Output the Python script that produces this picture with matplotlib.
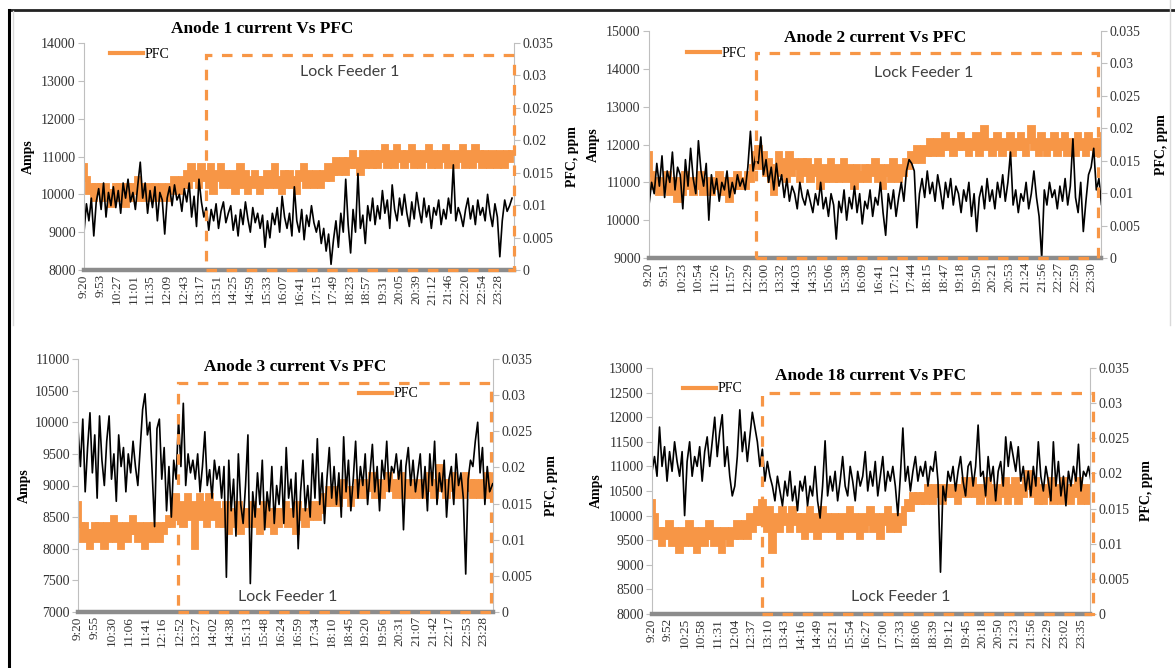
import numpy as np
import matplotlib
matplotlib.use('Agg')
import matplotlib.pyplot as plt
import matplotlib.transforms as mtransforms
from matplotlib.patches import Rectangle
from matplotlib.lines import Line2D
from matplotlib.ticker import FuncFormatter

plt.rcParams['font.family'] = 'Liberation Serif'

ORANGE = '#F79646'
START = '9:20'
AMPS_STEP = 5    # minutes between current samples
PFC_STEP = 5     # minutes between PFC samples

titles = ['Anode 1 current Vs PFC', 'Anode 2 current Vs PFC',
          'Anode 3 current Vs PFC', 'Anode 18 current Vs PFC']

# time of the lock feeder change (left side of the dashed box)
lock_start = ['13:29', '12:46', '12:49', '12:59']

# ---- anode current, Amps (one row = one hour from hh:20) ----
a1_amps = [
    9000, 9750, 9300, 9900, 8900, 9800, 10150, 9600, 10300, 9400, 10050, 9700,
    10200, 9650, 10100, 9500, 10300, 9900, 10400, 9800, 10050, 9600, 10250, 10850,
    9900, 10300, 9500, 10100, 9650, 10200, 9300, 10050, 9850, 8950, 9900, 10200,
    9700, 10250, 9850, 10000, 9550, 10150, 9800, 10300, 9400, 9950, 9150, 10400,
    9800, 9400, 9650, 9050, 9600, 9300, 9750, 9100, 9550, 9800, 9250, 9500,
    9700, 9050, 9450, 8900, 9600, 9200, 9800, 9350, 9000, 9650, 9250, 9500,
    9100, 9450, 8600, 9300, 8850, 9500, 9200, 9650, 9000, 9950, 9400, 9100,
    9500, 8900, 10200, 9300, 9000, 9600, 8800, 9450, 9150, 9700, 9250, 9000,
    9300, 8700, 9100, 8500, 8950, 8150, 8800, 9300, 8600, 9500, 9000, 10400,
    9200, 8450, 9600, 9000, 10550, 9100, 9450, 8700, 9700, 9300, 9900, 9200,
    9700, 9350, 10100, 9500, 9850, 9100, 10250, 9600, 9300, 9900, 9450, 10000,
    9500, 9150, 9800, 9350, 10050, 9600, 9250, 9900, 9400, 9700, 9100, 9650,
    9450, 9850, 9200, 9600, 9350, 9900, 9500, 10780, 9300, 9650, 9450, 9150,
    9600, 9900, 9350, 9700, 9200, 9850, 9450, 9650, 9300, 10000, 9500, 9150,
    9750, 9400, 8350, 9300, 9850, 9550, 9700, 9900]

a2_amps = [
    10400, 11000, 10700, 11500, 10900, 11700, 10600, 11300, 11000, 11800, 10800, 11400,
    11200, 10300, 11600, 10900, 11900, 11100, 10700, 12100, 11300, 10900, 11500, 10000,
    11200, 10700, 11100, 10500, 11000, 10800, 11300, 10600, 11000, 10700, 11200, 10900,
    11100, 10800, 11400, 12350, 11300, 11700, 11500, 12200, 11200, 11600, 11000, 11400,
    10800, 11500, 10900, 11200, 10600, 11100, 10500, 10900, 10700, 10300, 11000, 10600,
    10400, 10800, 10500, 10200, 10700, 10400, 11000, 10300, 10600, 10100, 10700, 10400,
    9500, 10500, 10200, 10800, 10000, 10600, 10300, 10900, 10200, 10700, 9900, 10500,
    10300, 10800, 10100, 10600, 10400, 11000, 10200, 9600, 10700, 10300, 10800, 10100,
    10600, 11000, 10500, 11300, 11600, 11500, 11300, 9800, 10700, 11100, 10600, 11300,
    10700, 11000, 10500, 11200, 10800, 10300, 11000, 10600, 11100, 10400, 10900, 10700,
    10200, 10800, 10500, 11000, 10100, 10700, 9700, 10600, 10900, 10300, 11100, 10500,
    10800, 10300, 11000, 10600, 11200, 10500, 11000, 11800, 10400, 10800, 10200, 10700,
    10500, 11000, 10300, 10700, 11300, 10600, 10100, 9000, 10800, 10400, 11000, 10600,
    10800, 10300, 10900, 10500, 11100, 10400, 10900, 12150, 10600, 10200, 11000, 9700,
    10500, 11200, 11400, 11900, 10800, 11100, 10400, 10800]

a3_amps = [
    9900, 9300, 10050, 8900, 9600, 10150, 9200, 9800, 8800, 10100, 9400, 9000,
    9700, 10100, 9100, 9500, 8750, 9800, 9300, 9600, 8900, 9500, 9200, 9700,
    9300, 9000, 9600, 10200, 10450, 9800, 10000, 9200, 8350, 9900, 10050, 9100,
    9600, 8600, 9300, 8500, 9400, 9100, 10050, 9300, 10300, 9000, 9500, 9200,
    9400, 9100, 9500, 8900, 9300, 9850, 9000, 9250, 8800, 9400, 9100, 9300,
    8800, 9300, 7550, 9400, 8600, 9100, 8200, 9500, 8700, 8400, 9000, 9800,
    7450, 8900, 8500, 9200, 8700, 9400, 8300, 8900, 8600, 9300, 8400, 9000,
    8700, 9300, 8400, 9600, 8800, 9100, 8500, 9200, 8000, 8900, 9400, 8600,
    9000, 8500, 9500, 8800, 9740, 8700, 9200, 8400, 9100, 9600, 8800, 9300,
    8700, 9200, 8500, 9770, 8900, 9400, 8600, 9100, 9700, 8800, 9300, 9000,
    9500, 8700, 9200, 9650, 8900, 9300, 8600, 9400, 9100, 9700, 8900, 9300,
    9200, 9500, 9100, 9400, 8300, 9300, 9600, 9000, 9400, 8900, 9200, 9500,
    8800, 9300, 8600, 9500, 9000, 9700, 8700, 9200, 8900, 9400, 8500, 9100,
    9300, 8700, 9500, 9000, 9200, 8800, 7600, 9100, 9400, 9300, 9700, 10000,
    9200, 9600, 8700, 9300, 8900, 9000, 9100, 8800]

a18_amps = [
    10900, 11200, 10800, 11800, 11000, 11400, 10700, 11300, 10900, 11500, 11100, 10800,
    11300, 10000, 11100, 11500, 10800, 11200, 11000, 11400, 10700, 11300, 11600, 11000,
    11500, 12000, 11200, 11700, 12050, 11000, 11400, 10800, 10400, 10600, 11200, 12150,
    11300, 11700, 11100, 11600, 12100, 11800, 11500, 11000, 11350, 10700, 11100, 10800,
    10600, 10300, 10800, 10500, 10200, 10700, 10400, 10900, 10300, 10600, 10100, 10700,
    10500, 10800, 10200, 10600, 10400, 11000, 10300, 9950, 10600, 11520, 10400, 10800,
    10500, 10900, 10300, 10700, 11200, 10600, 10400, 11000, 10700, 10300, 10900, 10600,
    10800, 11300, 10500, 10900, 10600, 11100, 10400, 10800, 11200, 10500, 10900, 10700,
    11000, 10600, 10000, 10800, 11780, 10700, 11000, 10500, 10900, 11200, 10700, 11000,
    10800, 11100, 10600, 11000, 10900, 11300, 10700, 8850, 10600, 10300, 10900, 10700,
    11000, 10500, 10900, 11200, 10700, 10400, 11000, 11100, 10600, 11000, 11840, 10800,
    10900, 10400, 11200, 10700, 11000, 10300, 10900, 11100, 10600, 11600, 11000, 11500,
    11200, 10900, 11400, 10700, 11000, 10500, 10900, 10400, 11000, 10600, 11500, 10800,
    10500, 11000, 10700, 10300, 11500, 10600, 11100, 10400, 10800, 10200, 10900, 10600,
    11000, 10700, 11450, 10500, 10900, 10800, 11000, 10700]

# ---- PFC, ppm (one row = one hour from hh:20) ----
a1_pfc = [
    0.016, 0.014, 0.012, 0.013, 0.011, 0.013, 0.012, 0.013, 0.011, 0.013, 0.012, 0.010,
    0.012, 0.013, 0.011, 0.013, 0.012, 0.010, 0.013, 0.011, 0.013, 0.012, 0.014, 0.011,
    0.013, 0.011, 0.012, 0.013, 0.011, 0.013, 0.012, 0.011, 0.013, 0.012, 0.011, 0.013,
    0.012, 0.014, 0.013, 0.012, 0.014, 0.013, 0.015, 0.013, 0.016, 0.014, 0.015, 0.013,
    0.016, 0.014, 0.015, 0.013, 0.016, 0.012, 0.015, 0.014, 0.016, 0.013, 0.015, 0.014,
    0.013, 0.015, 0.012, 0.014, 0.016, 0.013, 0.015, 0.012, 0.014, 0.013, 0.015, 0.014,
    0.012, 0.014, 0.013, 0.015, 0.013, 0.014, 0.016, 0.013, 0.014, 0.012, 0.015, 0.013,
    0.015, 0.013, 0.014, 0.012, 0.015, 0.014, 0.016, 0.013, 0.015, 0.014, 0.013, 0.015,
    0.014, 0.013, 0.015, 0.014, 0.016, 0.014, 0.015, 0.017, 0.015, 0.016, 0.017, 0.015,
    0.017, 0.016, 0.018, 0.016, 0.017, 0.015, 0.018, 0.016, 0.017, 0.018, 0.016, 0.018,
    0.016, 0.018, 0.017, 0.019, 0.016, 0.018, 0.017, 0.016, 0.019, 0.017, 0.018, 0.016,
    0.018, 0.017, 0.019, 0.016, 0.018, 0.017, 0.016, 0.018, 0.017, 0.019, 0.016, 0.018,
    0.017, 0.016, 0.018, 0.017, 0.019, 0.016, 0.018, 0.017, 0.016, 0.018, 0.017, 0.019,
    0.016, 0.018, 0.017, 0.016, 0.019, 0.017, 0.018, 0.016, 0.018, 0.017, 0.016, 0.018,
    0.017, 0.016, 0.018, 0.017, 0.016, 0.018, 0.017, 0.018]

a2_pfc = [
    0.016, 0.013, 0.011, 0.012, 0.010, 0.012, 0.011, 0.013, 0.010, 0.012, 0.011, 0.009,
    0.012, 0.010, 0.013, 0.011, 0.012, 0.010, 0.012, 0.011, 0.013, 0.010, 0.012, 0.011,
    0.010, 0.012, 0.011, 0.013, 0.010, 0.012, 0.011, 0.009, 0.012, 0.011, 0.013, 0.011,
    0.012, 0.011, 0.013, 0.012, 0.014, 0.016, 0.017, 0.014, 0.016, 0.013, 0.015, 0.012,
    0.010, 0.014, 0.016, 0.013, 0.015, 0.012, 0.016, 0.013, 0.015, 0.014, 0.012, 0.015,
    0.013, 0.015, 0.012, 0.014, 0.013, 0.015, 0.011, 0.014, 0.012, 0.013, 0.015, 0.012,
    0.014, 0.012, 0.013, 0.015, 0.012, 0.014, 0.013, 0.011, 0.014, 0.012, 0.013, 0.014,
    0.012, 0.014, 0.013, 0.015, 0.012, 0.014, 0.011, 0.013, 0.014, 0.012, 0.015, 0.013,
    0.012, 0.014, 0.013, 0.015, 0.014, 0.016, 0.015, 0.017, 0.016, 0.015, 0.017, 0.016,
    0.018, 0.016, 0.017, 0.018, 0.016, 0.017, 0.019, 0.017, 0.018, 0.016, 0.018, 0.017,
    0.019, 0.017, 0.018, 0.016, 0.018, 0.017, 0.019, 0.016, 0.018, 0.020, 0.017, 0.018,
    0.016, 0.018, 0.019, 0.017, 0.016, 0.018, 0.017, 0.019, 0.016, 0.018, 0.017, 0.019,
    0.017, 0.016, 0.018, 0.020, 0.017, 0.018, 0.016, 0.019, 0.017, 0.016, 0.018, 0.017,
    0.019, 0.016, 0.018, 0.017, 0.019, 0.016, 0.018, 0.017, 0.016, 0.019, 0.017, 0.018,
    0.016, 0.019, 0.017, 0.018, 0.016, 0.018, 0.017, 0.019]

a3_pfc = [
    0.015, 0.012, 0.010, 0.012, 0.011, 0.009, 0.011, 0.012, 0.010, 0.012, 0.011, 0.009,
    0.012, 0.010, 0.011, 0.013, 0.010, 0.012, 0.009, 0.011, 0.012, 0.010, 0.011, 0.013,
    0.011, 0.010, 0.012, 0.011, 0.009, 0.012, 0.011, 0.010, 0.012, 0.011, 0.010, 0.012,
    0.011, 0.012, 0.013, 0.012, 0.014, 0.016, 0.013, 0.015, 0.012, 0.014, 0.016, 0.013,
    0.015, 0.009, 0.014, 0.016, 0.013, 0.015, 0.012, 0.016, 0.014, 0.013, 0.015, 0.012,
    0.014, 0.012, 0.015, 0.011, 0.013, 0.014, 0.012, 0.015, 0.011, 0.013, 0.014, 0.012,
    0.013, 0.015, 0.012, 0.014, 0.011, 0.013, 0.015, 0.012, 0.014, 0.013, 0.011, 0.014,
    0.012, 0.014, 0.013, 0.015, 0.012, 0.014, 0.013, 0.011, 0.015, 0.013, 0.014, 0.012,
    0.014, 0.013, 0.015, 0.014, 0.013, 0.015, 0.014, 0.016, 0.015, 0.017, 0.015, 0.016,
    0.017, 0.015, 0.016, 0.018, 0.016, 0.017, 0.015, 0.017, 0.016, 0.018, 0.016, 0.017,
    0.016, 0.018, 0.017, 0.019, 0.016, 0.018, 0.017, 0.016, 0.018, 0.017, 0.019, 0.017,
    0.018, 0.016, 0.017, 0.019, 0.016, 0.018, 0.017, 0.016, 0.018, 0.016, 0.017, 0.018,
    0.016, 0.018, 0.017, 0.019, 0.017, 0.016, 0.018, 0.020, 0.017, 0.018, 0.016, 0.018,
    0.017, 0.019, 0.016, 0.018, 0.017, 0.016, 0.019, 0.017, 0.018, 0.016, 0.018, 0.017,
    0.016, 0.018, 0.017, 0.019, 0.016, 0.018, 0.017, 0.016]

a18_pfc = [
    0.016, 0.014, 0.011, 0.012, 0.010, 0.012, 0.011, 0.013, 0.010, 0.012, 0.011, 0.009,
    0.012, 0.010, 0.011, 0.013, 0.010, 0.012, 0.009, 0.011, 0.012, 0.010, 0.011, 0.013,
    0.011, 0.010, 0.012, 0.011, 0.009, 0.012, 0.011, 0.010, 0.012, 0.011, 0.013, 0.011,
    0.012, 0.013, 0.011, 0.014, 0.012, 0.013, 0.015, 0.013, 0.016, 0.014, 0.012, 0.015,
    0.009, 0.013, 0.014, 0.012, 0.015, 0.013, 0.014, 0.012, 0.015, 0.013, 0.014, 0.012,
    0.014, 0.011, 0.013, 0.015, 0.012, 0.014, 0.011, 0.013, 0.015, 0.012, 0.014, 0.013,
    0.012, 0.014, 0.013, 0.011, 0.014, 0.012, 0.013, 0.015, 0.012, 0.014, 0.013, 0.011,
    0.014, 0.012, 0.013, 0.015, 0.012, 0.014, 0.013, 0.011, 0.014, 0.013, 0.015, 0.012,
    0.013, 0.014, 0.012, 0.014, 0.013, 0.015, 0.016, 0.015, 0.017, 0.016, 0.017, 0.016,
    0.017, 0.016, 0.018, 0.017, 0.016, 0.018, 0.017, 0.018, 0.016, 0.018, 0.017, 0.018,
    0.017, 0.018, 0.016, 0.018, 0.017, 0.019, 0.017, 0.018, 0.019, 0.017, 0.018, 0.016,
    0.018, 0.017, 0.019, 0.016, 0.018, 0.017, 0.016, 0.018, 0.017, 0.019, 0.016, 0.018,
    0.017, 0.019, 0.016, 0.018, 0.017, 0.019, 0.020, 0.018, 0.017, 0.019, 0.016, 0.018,
    0.016, 0.018, 0.017, 0.019, 0.016, 0.018, 0.017, 0.016, 0.019, 0.017, 0.018, 0.016,
    0.018, 0.017, 0.019, 0.016, 0.018, 0.017, 0.016, 0.018]

# ---- x tick labels ----
a1_times = ['9:20', '9:53', '10:27', '11:01', '11:35', '12:09', '12:43', '13:17',
            '13:51', '14:25', '14:59', '15:33', '16:07', '16:41', '17:15', '17:49',
            '18:23', '18:57', '19:31', '20:05', '20:39', '21:12', '21:46', '22:20',
            '22:54', '23:28']
a2_times = ['9:20', '9:51', '10:23', '10:54', '11:26', '11:57', '12:29', '13:00',
            '13:32', '14:03', '14:35', '15:06', '15:38', '16:09', '16:41', '17:12',
            '17:44', '18:15', '18:47', '19:18', '19:50', '20:21', '20:53', '21:24',
            '21:56', '22:27', '22:59', '23:30']
a3_times = ['9:20', '9:55', '10:30', '11:06', '11:41', '12:16', '12:52', '13:27',
            '14:02', '14:38', '15:13', '15:48', '16:24', '16:59', '17:34', '18:10',
            '18:45', '19:20', '19:56', '20:31', '21:07', '21:42', '22:17', '22:53',
            '23:28']
a18_times = ['9:20', '9:52', '10:25', '10:58', '11:31', '12:04', '12:37', '13:10',
             '13:43', '14:16', '14:49', '15:21', '15:54', '16:27', '17:00', '17:33',
             '18:06', '18:39', '19:12', '19:45', '20:18', '20:50', '21:23', '21:56',
             '22:29', '23:02', '23:35']

amps_ticks = [np.arange(8000, 14001, 1000), np.arange(9000, 15001, 1000),
              np.arange(7000, 11001, 500), np.arange(8000, 13001, 500)]
pfc_ticks = [0, 0.005, 0.01, 0.015, 0.02, 0.025, 0.03, 0.035]

all_amps = [a1_amps, a2_amps, a3_amps, a18_amps]
all_pfc = [a1_pfc, a2_pfc, a3_pfc, a18_pfc]
all_times = [a1_times, a2_times, a3_times, a18_times]


def minutes(s):
    h, m = s.split(':')
    h0, m0 = START.split(':')
    return int(h) * 60 + int(m) - (int(h0) * 60 + int(m0))


W, H = 1175, 668
fig = plt.figure(figsize=(W / 100, H / 100), dpi=100)

# axes boxes in pixels: left, right, top, bottom
boxes = [(84, 514, 43, 270), (649, 1101, 31, 258),
         (78, 493, 359, 612), (652, 1090, 368, 614)]
x_end = [879, 869, 867, 873]
title_pos = [(0.414, 1.062), (0.5, 0.969), (0.523, 0.968), (0.5, 0.967)]
lock_text_pos = [(0.619, 0.872), (0.608, 0.815), (0.506, 0.059), (0.568, 0.069)]
lock_box = [(0.947, 1.0), (0.903, 0.994), (0.905, 0.994), (0.898, 1.007)]  # top, right
leg_pos = [(0.06, 0.95), (0.084, 0.903), (0.677, 0.862), (0.071, 0.915)]
amps_lab_x = [-0.13, -0.122, -0.13, -0.128]
pfc_lab_x = [1.135, 1.133, 1.14, 1.128]

for i in range(4):
    l, r, t, b = boxes[i]
    ax = fig.add_axes([l / W, (H - b) / H, (r - l) / W, (b - t) / H])
    ax2 = ax.twinx()
    ax.set_zorder(2)
    ax2.set_zorder(1)
    ax.patch.set_visible(False)

    amps = all_amps[i]
    pfc = all_pfc[i]
    ta = np.arange(len(amps)) * AMPS_STEP
    tp = np.arange(len(pfc)) * PFC_STEP

    ax2.plot(tp, pfc, color=ORANGE, lw=4.2, drawstyle='steps-mid',
             solid_joinstyle='miter')
    ax.plot(ta, amps, color='black', lw=1.2)

    ax.set_xlim(0, x_end[i])
    ax.set_ylim(amps_ticks[i][0], amps_ticks[i][-1])
    ax2.set_ylim(0, 0.035)
    ax.set_yticks(amps_ticks[i])
    ax2.set_yticks(pfc_ticks)
    ax2.yaxis.set_major_formatter(FuncFormatter(lambda v, p: '{:g}'.format(round(v, 3))))

    ticks = [minutes(s) for s in all_times[i]]
    ax.set_xticks(ticks)
    ax.set_xticklabels(all_times[i], rotation=90, fontsize=9.5, color='#333333')
    ax.tick_params(axis='x', length=0, pad=3)
    ax.tick_params(axis='y', length=4, color='#bfbfbf', labelsize=10,
                   labelcolor='#333333', pad=2)
    ax2.tick_params(axis='y', length=4, color='#bfbfbf', labelsize=10,
                    labelcolor='#333333', pad=2)

    for a in (ax, ax2):
        a.spines['top'].set_visible(False)
    ax.spines['right'].set_visible(False)
    ax2.spines['left'].set_visible(False)
    ax2.spines['bottom'].set_visible(False)
    ax.spines['left'].set_color('#bfbfbf')
    ax2.spines['right'].set_color('#bfbfbf')
    ax.spines['bottom'].set_color('#8c8c8c')
    ax.spines['bottom'].set_linewidth(3.2)

    # dashed "Lock Feeder 1" box
    trans = mtransforms.blended_transform_factory(ax.transData, ax.transAxes)
    x0 = minutes(lock_start[i])
    top, right = lock_box[i]
    x1 = right * x_end[i]
    rect = Rectangle((x0, 0), x1 - x0, top, transform=trans, fill=False,
                     edgecolor=ORANGE, lw=2.3, linestyle=(0, (3.3, 3.0)),
                     clip_on=False, zorder=5)
    ax.add_patch(rect)

    ax.text(*lock_text_pos[i], 'Lock Feeder 1', transform=ax.transAxes,
            ha='center', va='center', fontsize=11.5, family='Lato', color='#404040')
    ax.text(*title_pos[i], titles[i], transform=ax.transAxes, ha='center',
            va='center', fontsize=12.4, fontweight='bold')
    ax.text(amps_lab_x[i], 0.5, 'Amps', transform=ax.transAxes, rotation=90,
            ha='center', va='center', fontsize=10, fontweight='bold')
    ax.text(pfc_lab_x[i], 0.5, 'PFC, ppm', transform=ax.transAxes, rotation=90,
            ha='center', va='center', fontsize=10, fontweight='bold')

    handle = Line2D([], [], color=ORANGE, lw=3.0)
    ax.legend([handle], ['PFC'], loc='center left', bbox_to_anchor=leg_pos[i],
              frameon=False, handlelength=2.4, handletextpad=0.1,
              borderpad=0, borderaxespad=0, fontsize=10)

# outer frame of the pasted picture
fig.add_artist(Line2D([9 / W, 1], [1 - 10 / H, 1 - 10 / H], color='#222222', lw=2))
fig.add_artist(Line2D([9 / W, 9 / W], [0, 1 - 10 / H], color='black', lw=2.2))
fig.add_artist(Line2D([13 / W, 13 / W], [1 - 325 / H, 1 - 11 / H], color='#d9d9d9', lw=1))
fig.add_artist(Line2D([1170 / W, 1170 / W], [1 - 325 / H, 1], color='#d9d9d9', lw=1))

fig.savefig('out.png', dpi=100)
